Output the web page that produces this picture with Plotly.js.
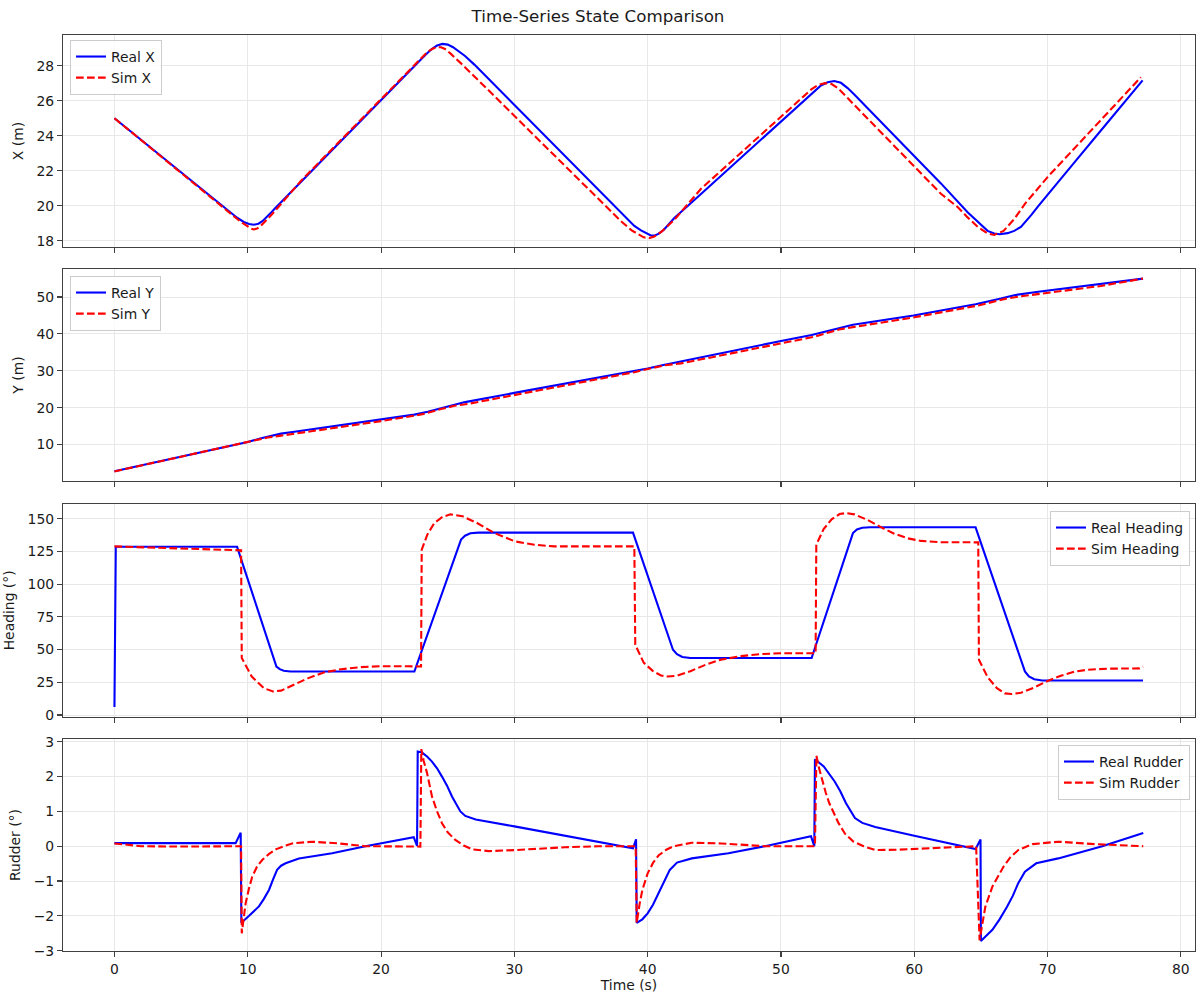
<!DOCTYPE html>
<html>
<head>
<meta charset="utf-8">
<script src="https://cdn.plot.ly/plotly-3.0.1.min.js"></script>
<style>html,body{margin:0;padding:0;background:#fff;}#chart{width:1196px;height:994px;}</style>
</head>
<body>
<div id="chart"></div>
<script>
// ---------- DATA ----------
const chartTitle = "Time-Series State Comparison";
const xTitle = "Time (s)";
const yTitles = ["X (m)", "Y (m)", "Heading (°)", "Rudder (°)"];
const seriesNames = [["Real X", "Sim X"], ["Real Y", "Sim Y"], ["Real Heading", "Sim Heading"], ["Real Rudder", "Sim Rudder"]];

// X position
const tRealX = [0,2,4,4.85,6,7.34,8.59,9.2,9.7,10.1,10.46,10.8,11.1,11.4,11.7,12,14,16,18,20,22,22.8,23.3,23.8,24.2,24.6,25.0,25.4,25.8,26.3,27,30,33,36,38,39,39.5,39.9,40.2,40.5,40.8,41.2,41.6,42,44,46,48,50,52,52.5,53,53.5,54,54.5,55,55.5,56,58,60,62,64,64.8,65.5,66.0,66.4,67.0,67.5,68.0,68.3,68.8,69.3,70,72,74,76,77.13];
const realX  = [25.0,23.76,22.53,22.02,21.3,20.49,19.69,19.32,19.08,18.96,18.92,18.98,19.12,19.33,19.57,19.82,21.38,22.94,24.5,26.06,27.62,28.2,28.6,28.95,29.15,29.24,29.2,29.05,28.85,28.55,28.06,25.75,23.43,21.12,19.58,18.85,18.6,18.42,18.32,18.3,18.4,18.62,18.95,19.3,20.68,22.06,23.44,24.82,26.2,26.55,26.87,27.05,27.12,27.02,26.72,26.36,25.97,24.41,22.84,21.28,19.63,19.05,18.57,18.42,18.38,18.44,18.57,18.8,19.05,19.5,19.98,20.64,22.47,24.3,26.13,27.16];
const tSimX = [0,2,4,6,8,9,9.6,10.0,10.25,10.46,10.7,11.0,11.4,11.8,12.2,14,16,18,20,21.5,22.5,23.0,23.5,23.9,24.2,24.5,24.8,25.2,25.6,26,28,30,32,34,36,38,38.8,39.3,39.7,40.1,40.5,41,41.5,42,44,46,48,50,51.5,52.3,52.8,53.3,53.8,54.3,55,56,58,60,62,63.27,64.0,64.8,65.5,66.0,66.7,67.5,68.3,70,72,74.5,77.0];
const simX  = [25.0,23.74,22.49,21.24,19.98,19.38,19.02,18.8,18.7,18.65,18.7,18.87,19.17,19.5,19.85,21.43,22.99,24.55,26.11,27.3,28.05,28.45,28.8,28.98,29.05,29.05,28.95,28.7,28.43,28.13,26.64,25.14,23.64,22.13,20.63,19.12,18.6,18.35,18.2,18.16,18.25,18.5,18.85,19.2,20.97,22.35,23.73,25.11,26.15,26.66,26.9,27.0,26.95,26.7,26.15,25.37,23.81,22.25,20.69,19.92,19.34,18.77,18.42,18.34,18.57,19.25,20.11,21.64,23.26,25.3,27.34];

// Y position
const tRealY = [0,5,9.2,10,11,12,12.5,13.5,20,22.5,23.5,24.5,25.5,26.3,30,36.3,39,40,41,42,42.8,50,52.3,53.3,54.3,55.4,56.5,59.94,64.6,65.5,66.5,67.5,68.3,69.3,77.16];
const realY  = [2.72,6.67,10.0,10.65,11.7,12.6,12.95,13.45,16.77,18.1,18.9,19.9,20.9,21.5,24.0,28.1,29.9,30.6,31.45,32.2,32.7,38.05,39.7,40.6,41.6,42.5,43.1,45.0,48.05,48.7,49.6,50.5,51.0,51.45,55.0];
const tSimY = [0,9.5,10.5,11.5,12.5,16,20,22.5,23.2,24.5,25.5,26.5,30,36.3,39,40.3,41.3,42.5,46,50,52.6,53.5,54.5,55.5,60,64.8,65.8,66.8,68,70,74,77.16];
const simY  = [2.7,10.2,11.0,11.9,12.4,14.2,16.35,17.8,18.3,19.6,20.5,21.0,23.4,27.7,29.6,30.7,31.5,32.0,34.5,37.5,39.3,40.3,41.3,41.9,44.5,47.7,48.6,49.5,50.2,51.1,53.0,55.0];

// Heading
const tRealH = [0,0.1,9.2,12.15,12.4,12.7,13.2,22.5,26.0,26.3,26.7,27.3,38.9,41.9,42.2,42.6,43.2,52.3,55.4,55.7,56.1,56.7,64.6,68.3,68.6,69.0,69.6,77.16];
const realH  = [6.1,128.5,128.5,37.0,35.0,33.8,33.2,33.2,134.0,137.0,138.8,139.3,139.3,49.8,46.5,44.3,43.5,43.5,139.0,141.8,143.0,143.4,143.4,33.3,29.5,27.3,26.4,26.4];
const tSimH = [0,3,6,9.5,9.55,10.3,11.2,11.9,12.5,13.4,14.5,15.7,17,18.5,20,22,23.0,23.05,23.47,24.0,24.6,25.2,26.1,27.2,28.5,30.06,31.5,33,35,39.0,39.07,39.7,40.4,41.0,41.5,42.2,43.2,44.5,45.5,47,48.5,50,52.6,52.65,53.2,53.8,54.4,54.9,55.5,56.5,57.5,58.5,59.5,60.5,62,64.8,64.85,65.5,66.2,66.8,67.3,68,69,70,71,72,73,74.5,76.9,77.16];
const simH  = [128.8,127.8,126.8,125.8,43.5,29.4,20.5,18.0,18.6,23.1,28.0,32.5,35.0,36.6,37.3,37.2,37.1,126.3,137.8,146.7,151.3,153.3,151.9,146.7,139.0,132.6,130.1,128.8,128.8,128.8,53.7,40.0,33.5,30.2,29.4,30.0,33.5,39.0,42.3,45.0,46.5,47.2,47.2,130.1,142.0,149.5,153.5,154.3,153.3,149.0,143.5,138.5,135.0,133.0,132.0,131.9,42.2,29.0,20.5,16.5,16.0,17.0,21.0,26.0,30.0,33.0,34.6,35.4,35.6,37.0];

// Rudder
const tRealR = [0,9.09,9.47,9.52,10.1,10.84,11.2,11.6,11.9,12.2,12.5,12.84,13.84,16.33,18.83,22.45,22.7,22.75,23.07,23.45,23.82,24.2,24.57,24.95,25.32,25.65,25.95,26.32,27.1,30,36.3,38.9,39.13,39.18,39.6,40.0,40.4,40.83,41.25,41.66,42.2,43.31,46.06,48.8,52.25,52.5,52.55,53.21,54.03,54.45,54.87,55.55,56.1,57.07,60,64.6,64.97,65.0,65.86,66.4,66.96,67.4,67.8,68.3,69.15,70.8,74.1,77.18];
const realR  = [0.09,0.09,0.39,-2.2,-2.0,-1.73,-1.52,-1.25,-0.95,-0.68,-0.56,-0.49,-0.35,-0.2,0.0,0.26,0.01,2.72,2.69,2.58,2.43,2.24,2.0,1.74,1.43,1.2,1.0,0.87,0.77,0.57,0.13,-0.06,0.2,-2.2,-2.1,-1.93,-1.68,-1.35,-1.02,-0.68,-0.47,-0.35,-0.2,0.0,0.29,0.0,2.5,2.29,1.86,1.58,1.24,0.81,0.67,0.55,0.3,-0.08,0.19,-2.72,-2.4,-2.1,-1.74,-1.42,-1.06,-0.73,-0.49,-0.35,0.0,0.38];
const tSimR = [0,1,2,5,9.5,9.55,9.84,10.1,10.34,10.7,11.1,11.6,12.1,12.7,13.33,14.83,16.83,18.83,22.95,23.02,23.2,23.45,23.82,24.2,24.57,25.0,25.57,26.2,26.82,28.07,30.07,33.8,36.3,39.1,39.18,39.4,39.6,40.0,40.4,40.83,41.4,41.93,43.31,45.51,48.8,52.55,52.66,52.85,53.07,53.35,53.62,54.31,54.8,55.41,56.2,57.07,58.7,60.5,62.6,64.64,64.9,65.1,65.33,65.86,66.69,67.2,67.8,68.87,70.8,73.56,77.18];
const simR  = [0.08,0.03,0.0,-0.01,0.0,-2.5,-1.64,-1.2,-0.87,-0.58,-0.39,-0.22,-0.09,0.0,0.08,0.13,0.08,0.0,-0.01,2.79,2.45,2.1,1.43,1.0,0.66,0.4,0.18,0.02,-0.09,-0.14,-0.11,-0.03,0.0,0.0,-2.2,-1.65,-1.26,-0.78,-0.48,-0.26,-0.1,0.0,0.1,0.08,0.0,0.0,2.6,2.25,1.91,1.55,1.24,0.67,0.36,0.14,0.0,-0.11,-0.1,-0.07,-0.04,0.0,-2.7,-2.2,-1.74,-1.16,-0.59,-0.32,-0.11,0.06,0.13,0.06,0.0];

// ---------- STYLE ----------
const FONT = "DejaVu Sans, Liberation Sans, sans-serif";
const FS = 13.9;
const BLUE = "#0000ff", RED = "#ff0000";
const H = 994, T = 35, B = 43;
const plotH = H - T - B;
function frac(px) { return (H - B - px) / plotH; }

const pairs = [[tRealX, realX, tSimX, simX], [tRealY, realY, tSimY, simY], [tRealH, realH, tSimH, simH], [tRealR, realR, tSimR, simR]];
const legendIds = ["legend", "legend2", "legend3", "legend4"];
const traces = [];
pairs.forEach((p, i) => {
  const xa = i === 0 ? "x" : "x" + (i + 1);
  const ya = i === 0 ? "y" : "y" + (i + 1);
  traces.push({x: p[0], y: p[1], type: "scatter", mode: "lines", name: seriesNames[i][0], xaxis: xa, yaxis: ya, legend: legendIds[i],
               line: {color: BLUE, width: 2.1, shape: "linear"}});
  traces.push({x: p[2], y: p[3], type: "scatter", mode: "lines", name: seriesNames[i][1], xaxis: xa, yaxis: ya, legend: legendIds[i],
               line: {color: RED, width: 2.1, dash: "7.7px,3.3px"}});
});

const domains = [[frac(247), frac(35)], [frac(481), frac(269)], [frac(716.7), frac(504)], [frac(951), frac(739)]];
const yRanges = [[17.65, 29.75], [0.1, 57.6], [-1.3, 161.2], [-3.01, 3.08]];
const yDticks = [2, 10, 25, 1];
const xRange = [-3.86, 81.06];

const layout = {
  width: 1196, height: 994,
  margin: {l: 63, r: 1, t: T, b: B, pad: 0},
  paper_bgcolor: "#ffffff", plot_bgcolor: "#ffffff",
  font: {family: FONT, size: FS, color: "#1a1a1a"},
  showlegend: true,
  title: {text: chartTitle, x: 0.5, xref: "container", xanchor: "center", y: 1 - 16 / 994, yref: "container", yanchor: "middle",
          font: {family: FONT, size: 16.7, color: "#1a1a1a"}}
};

const axisCommon = {
  showline: true, mirror: true, linecolor: "#404040", linewidth: 1.1,
  showgrid: true, gridcolor: "#e6e6e6", gridwidth: 0.9,
  zeroline: false, ticks: "outside", ticklen: 5, tickwidth: 1.1, tickcolor: "#404040",
  tickfont: {family: FONT, size: FS, color: "#1a1a1a"}
};

for (let i = 0; i < 4; i++) {
  const xk = i === 0 ? "xaxis" : "xaxis" + (i + 1);
  const yk = i === 0 ? "yaxis" : "yaxis" + (i + 1);
  const ya = i === 0 ? "y" : "y" + (i + 1);
  const xa = i === 0 ? "x" : "x" + (i + 1);
  layout[xk] = Object.assign({}, axisCommon, {
    domain: [0, 1], anchor: ya, range: xRange, tickmode: "linear", tick0: 0, dtick: 10,
    showticklabels: i === 3
  });
  if (i > 0) layout[xk].matches = "x";
  if (i === 3) layout[xk].title = {text: xTitle, font: {family: FONT, size: FS, color: "#1a1a1a"}, standoff: 4};
  layout[yk] = Object.assign({}, axisCommon, {
    domain: domains[i], anchor: xa, range: yRanges[i], tickmode: "linear", tick0: 0, dtick: yDticks[i],
    title: {text: yTitles[i], font: {family: FONT, size: FS, color: "#1a1a1a"}, standoff: 9}
  });
}

const legendCommon = {bgcolor: "rgba(255,255,255,0.8)", bordercolor: "#cccccc", borderwidth: 1,
  font: {family: FONT, size: FS, color: "#1a1a1a"}, tracegroupgap: 0, itemwidth: 30};
layout.legend  = Object.assign({}, legendCommon, {x: (70 - 63) / 1132, y: frac(40), xanchor: "left", yanchor: "top"});
layout.legend2 = Object.assign({}, legendCommon, {x: (70 - 63) / 1132, y: frac(276), xanchor: "left", yanchor: "top"});
layout.legend3 = Object.assign({}, legendCommon, {x: (1190 - 63) / 1132, y: frac(511), xanchor: "right", yanchor: "top"});
layout.legend4 = Object.assign({}, legendCommon, {x: (1190 - 63) / 1132, y: frac(745), xanchor: "right", yanchor: "top"});

Plotly.newPlot("chart", traces, layout, {staticPlot: true, displayModeBar: false});
</script>
</body>
</html>
